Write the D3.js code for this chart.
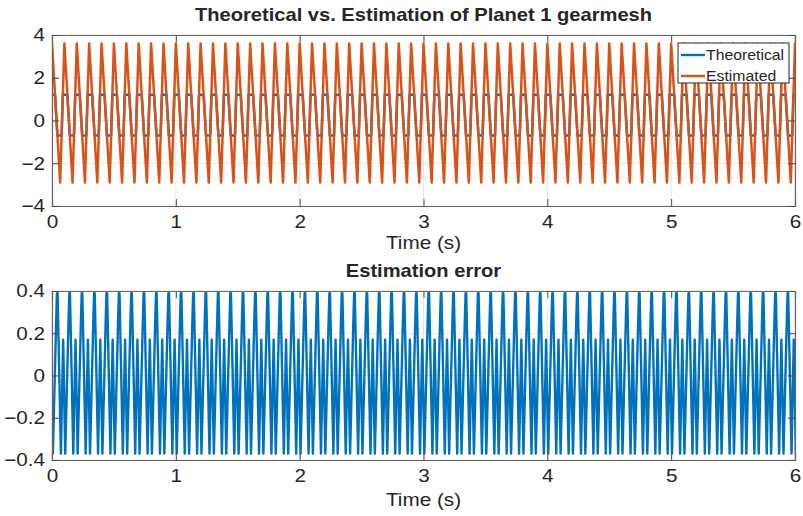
<!DOCTYPE html>
<html><head><meta charset="utf-8">
<script src="https://cdn.jsdelivr.net/npm/d3@7"></script>
<style>
html,body{margin:0;padding:0;background:#fff;}
text{font-family:"Liberation Sans",Arial,Helvetica,sans-serif;fill:#262626;}
</style></head>
<body>
<svg id="chart" width="803" height="516"></svg>
<script>
// ---- data ----
const timeDomain = [0, 6];
const period = 0.1;            // s, one mesh cycle
const cycles = 60;
// one cycle of each signal: [phase within cycle, value]
const estimatedCycle   = [[0.00, 3.6], [0.66, -2.9]];
const theoreticalCycle = [[0.244, 1.2], [0.437, -0.7], [0.775, -0.7], [0.874, 1.2]];
const errorCycle       = [[0.00, 0.39], [0.27, -0.37], [0.45, 0.17], [0.62, -0.37], [0.90, 0.29], [0.95, 0.39]];
const errorOffset = 0.045;
const topYTicks = [-4, -2, 0, 2, 4];
const botYTicks = [-0.4, -0.2, 0, 0.2, 0.4];
const xTicks = [0, 1, 2, 3, 4, 5, 6];
const topTitle = "Theoretical vs. Estimation of Planet 1 gearmesh";
const botTitle = "Estimation error";
const xLabel = "Time (s)";
const legendNames = ["Theoretical", "Estimated"];
const colors = {blue: "#0072BD", orange: "#D95319"};

function tile(cycle, offset) {
  const pts = [];
  for (let k = -1; k <= cycles; k++) {
    cycle.forEach(([p, v]) => pts.push([(k + p) * period + offset, v]));
  }
  return pts;
}
const theoretical = tile(theoreticalCycle, 0);
const estimated = tile(estimatedCycle, 0);
const errorSeries = tile(errorCycle, errorOffset);

// ---- drawing ----
const SX = 1.15; // horizontal stretch of the reference's text
const svg = d3.select("#chart");
const x = d3.scaleLinear().domain(timeDomain).range([52, 795]);

function stretchedText(g, px, py, size, str, weight, fill) {
  return g.append("text").attr("transform", `translate(${px},${py}) scale(${SX},1)`)
    .attr("text-anchor", "middle").attr("font-size", size)
    .attr("font-weight", weight || "normal").attr("fill", fill || "#262626").text(str);
}

function panel(id, top, bottom, yDomain, yTicks, fmt, series, title, labelY, titleY) {
  const y = d3.scaleLinear().domain(yDomain).range([bottom, top]);
  const g = svg.append("g");
  g.append("clipPath").attr("id", id).append("rect")
    .attr("x", x(0)).attr("y", top).attr("width", x(6) - x(0)).attr("height", bottom - top);
  // grid
  g.append("g").selectAll("line").data(yTicks).join("line")
    .attr("x1", x(0)).attr("x2", x(6)).attr("y1", d => y(d)).attr("y2", d => y(d))
    .attr("stroke", "#e6e6e6").attr("stroke-width", 1);
  g.append("g").selectAll("line").data(xTicks).join("line")
    .attr("y1", top).attr("y2", bottom).attr("x1", d => x(d)).attr("x2", d => x(d))
    .attr("stroke", "#e6e6e6").attr("stroke-width", 1);
  // lines
  const line = d3.line().x(d => x(d[0])).y(d => y(d[1]));
  const lg = g.append("g").attr("clip-path", `url(#${id})`);
  series.forEach(s => lg.append("path").datum(s.data).attr("d", line)
    .attr("fill", "none").attr("stroke", s.color).attr("stroke-width", s.w).attr("stroke-linejoin", "round"));
  // axes (ticks inside, box)
  const tl = 7;
  const axB = g.append("g").attr("transform", `translate(0,${bottom})`)
    .call(d3.axisBottom(x).tickValues(xTicks).tickSize(-tl).tickPadding(9).tickFormat(d3.format("d")));
  const axT = g.append("g").attr("transform", `translate(0,${top})`)
    .call(d3.axisTop(x).tickValues(xTicks).tickSize(-tl).tickFormat(""));
  const axL = g.append("g").attr("transform", `translate(${x(0)},0)`)
    .call(d3.axisLeft(y).tickValues(yTicks).tickSize(-tl).tickPadding(6).tickFormat(fmt));
  const axR = g.append("g").attr("transform", `translate(${x(6)},0)`)
    .call(d3.axisRight(y).tickValues(yTicks).tickSize(-tl).tickFormat(""));
  [axB, axT, axL, axR].forEach(a => {
    a.select(".domain").attr("stroke", "#6e6259").attr("stroke-width", 1.2);
    a.selectAll(".tick line").attr("stroke", "#4a4a4a");
    a.selectAll("text").attr("font-size", 18).attr("fill", "#262626")
      .attr("transform", `scale(${SX},1)`)
      .style("font-family", '"Liberation Sans", Arial, sans-serif');
  });
  stretchedText(g, (x(0) + x(6)) / 2, labelY, 18, xLabel);
  stretchedText(g, (x(0) + x(6)) / 2, titleY, 17.5, title, "bold", "#000");
  return y;
}

panel("c1", 35, 206, [-4, 4], topYTicks, d3.format("d"),
  [{data: theoretical, color: colors.blue, w: 2.5}, {data: estimated, color: colors.orange, w: 2.5}],
  topTitle, 249, 21);
panel("c2", 291, 460, [-0.4, 0.4], botYTicks, v => v === 0 ? "0" : d3.format(".1f")(v),
  [{data: errorSeries, color: colors.blue, w: 2.4}],
  botTitle, 506, 277);

// legend
const lgd = svg.append("g");
lgd.append("rect").attr("x", 678).attr("y", 43).attr("width", 111).attr("height", 40)
  .attr("fill", "#fff").attr("stroke", "#262626").attr("stroke-width", 1);
[colors.blue, colors.orange].forEach((c, i) => {
  const yy = 55 + i * 21;
  lgd.append("line").attr("x1", 681).attr("x2", 705).attr("y1", yy).attr("y2", yy)
    .attr("stroke", c).attr("stroke-width", 2.4);
  lgd.append("text").attr("transform", `translate(706,${yy}) scale(1.02,1)`).attr("dy", "0.35em")
    .attr("font-size", 15.5).text(legendNames[i]);
});
</script>
</body></html>
